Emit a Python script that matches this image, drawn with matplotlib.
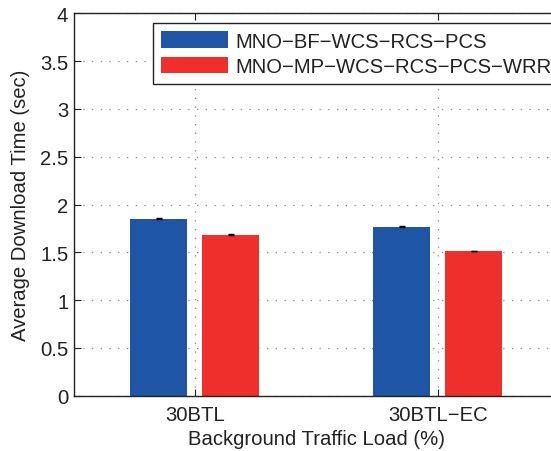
import matplotlib
matplotlib.use("Agg")
import matplotlib.pyplot as plt
import numpy as np

plt.rcParams['font.family'] = ['Liberation Sans', 'DejaVu Sans']

# Data
categories = ["30BTL", "30BTL\u2212EC"]
series_names = ["MNO\u2212BF\u2212WCS\u2212RCS\u2212PCS",
                "MNO\u2212MP\u2212WCS\u2212RCS\u2212PCS\u2212WRR"]
bf_values = [1.85, 1.77]
mp_values = [1.685, 1.515]
bf_err = [0.004, 0.004]
mp_err = [0.004, 0.004]
y_ticks = [0, 0.5, 1, 1.5, 2, 2.5, 3, 3.5, 4]
y_tick_labels = ["0", "0.5", "1", "1.5", "2", "2.5", "3", "3.5", "4"]

blue = "#1E56A5"
red = "#EE2F2C"
ink = '#222222'
fs = 14.6

fig = plt.figure(figsize=(5.51, 4.52), dpi=100)
ax = fig.add_axes([0.134, 0.1223, 0.882, 0.846])

x = np.arange(1, len(categories) + 1)
width = 0.235
off_bf = -0.15
off_mp = 0.145

ax.bar(x + off_bf, bf_values, width, color=blue, edgecolor='none',
       label=series_names[0], zorder=2)
ax.bar(x + off_mp, mp_values, width, color=red, edgecolor='none',
       label=series_names[1], zorder=2)
ax.errorbar(x + off_bf, bf_values, yerr=bf_err, fmt='none', ecolor='black',
            elinewidth=0.8, capsize=2.5, capthick=1.0, zorder=3)
ax.errorbar(x + off_mp, mp_values, yerr=mp_err, fmt='none', ecolor='black',
            elinewidth=0.8, capsize=2.5, capthick=1.0, zorder=3)

ax.set_xlim(0.5, 2.5)
ax.set_ylim(0, 4)
ax.set_xticks(x)
ax.set_xticklabels(categories, fontsize=fs)
ax.set_yticks(y_ticks)
ax.set_yticklabels(y_tick_labels, fontsize=fs)

ax.grid(True, linestyle=(0, (1, 6)), color='#888888', linewidth=0.9, zorder=1)
ax.set_axisbelow(True)

ax.tick_params(direction='in', length=5, width=0.8, colors=ink,
               labelcolor=ink, top=True, right=True, pad=4)
ax.tick_params(axis='x', pad=7)
for s in ax.spines.values():
    s.set_linewidth(1.0)
    s.set_color(ink)

ax.set_xlabel("Background Traffic Load (%)", fontsize=fs, color=ink,
              labelpad=3.5)
ax.set_ylabel("Average Download Time (sec)", fontsize=fs, color=ink,
              labelpad=7)

leg = ax.legend(loc='upper left', bbox_to_anchor=(152.8 / 551, 1 - 24 / 452),
                bbox_transform=fig.transFigure, fontsize=fs, frameon=True,
                fancybox=False, edgecolor=ink, handlelength=3.3,
                handleheight=0.9, handletextpad=0.36, labelspacing=0.3,
                borderpad=0.4, borderaxespad=0)
leg.get_frame().set_linewidth(1.0)
leg.get_frame().set_alpha(1)
for t in leg.get_texts():
    t.set_color(ink)

fig.savefig("out.png", dpi=100)
